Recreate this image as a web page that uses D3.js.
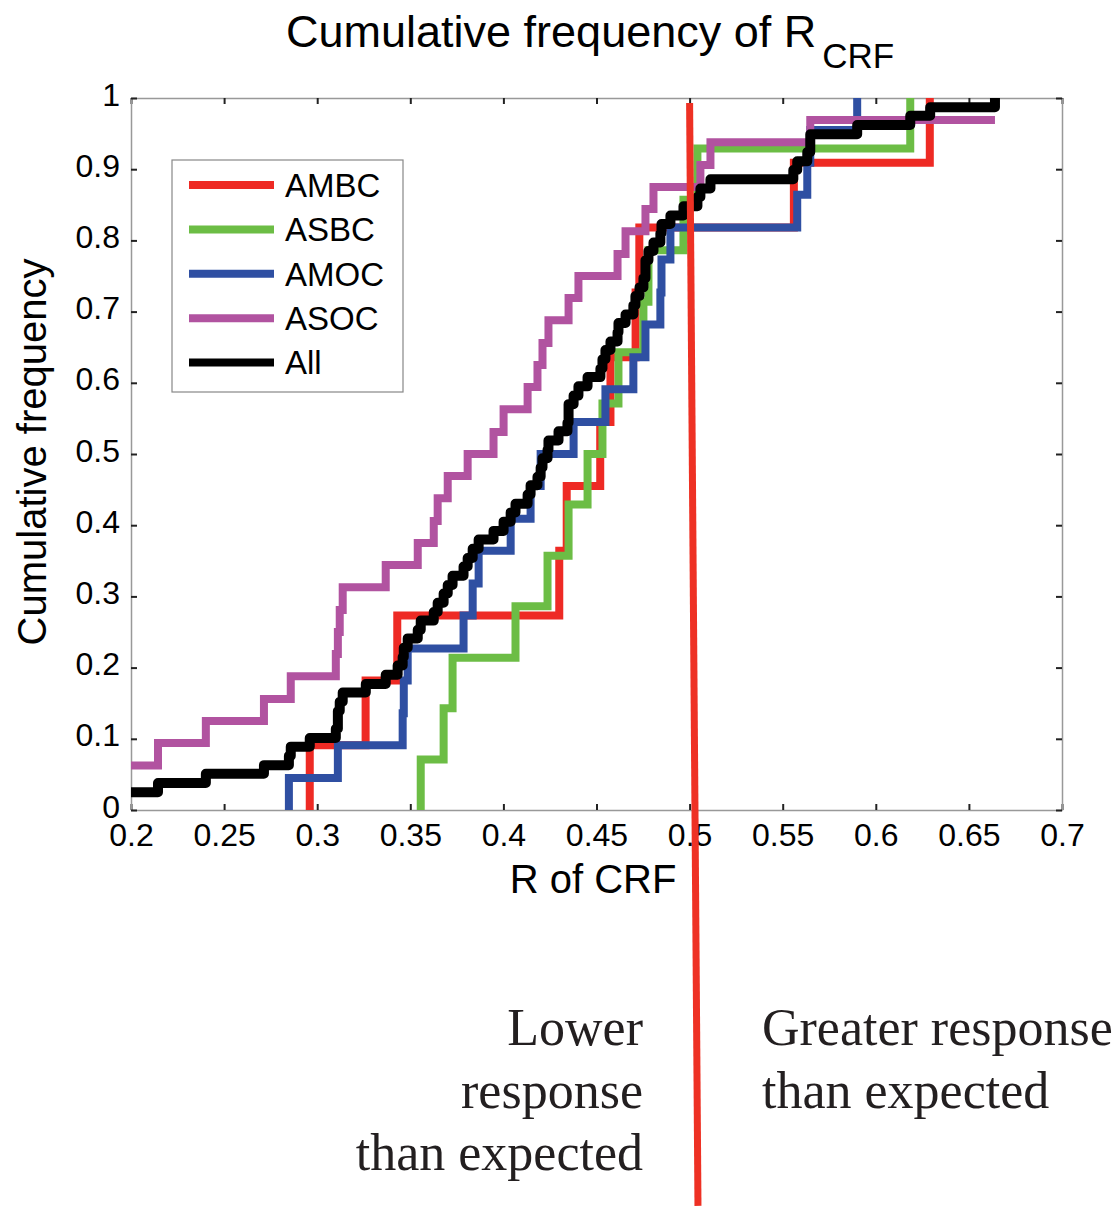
<!DOCTYPE html>
<html>
<head>
<meta charset="utf-8">
<script src="https://cdn.jsdelivr.net/npm/d3@7"></script>
<style>
  body { margin: 0; background: #fff; }
  svg { display: block; font-family: "Liberation Sans", Arial, sans-serif; }
</style>
</head>
<body>
<svg id="chart" width="1120" height="1206"></svg>
<script>
// series names / colours (legend order = draw order)
const seriesNames = ['AMBC', 'ASBC', 'AMOC', 'ASOC', 'All']
const seriesColors = ['#ee2a24', '#6cbd45', '#2f4fa2', '#b153a0', '#000000']

// each series: start point, then the x where the cdf steps and the level it steps to
const ambcStart = [0.296, 0]
const ambcX = [0.296, 0.326, 0.343, 0.430, 0.434, 0.452, 0.4575, 0.471, 0.473, 0.556, 0.629]
const ambcY = [0.091, 0.182, 0.273, 0.364, 0.455, 0.545, 0.636, 0.727, 0.818, 0.909, 1.0]

const asbcStart = [0.3556, 0]
const asbcX = [0.3556, 0.3679, 0.3727, 0.4065, 0.4237, 0.4350, 0.4452, 0.4532, 0.4618, 0.4752, 0.4779, 0.4967, 0.5042, 0.6185]
const asbcY = [0.071, 0.143, 0.214, 0.286, 0.357, 0.429, 0.5, 0.571, 0.643, 0.714, 0.786, 0.857, 0.929, 1.0]

const amocStart = [0.2848, 0]
const amocX = [0.2848, 0.3111, 0.3459, 0.3465, 0.3486, 0.3786, 0.3835, 0.3867, 0.4039, 0.4146, 0.4200,
  0.4377, 0.4548, 0.4698, 0.4763, 0.4843, 0.4849, 0.4897, 0.5578, 0.5632, 0.5648, 0.5900]
const amocY = [0.045, 0.091, 0.136, 0.182, 0.227, 0.273, 0.318, 0.364, 0.409, 0.455, 0.5,
  0.545, 0.591, 0.636, 0.682, 0.727, 0.773, 0.818, 0.864, 0.909, 0.955, 1.0]

const asocStart = [0.19, 0.0625]
const asocX = [0.2145, 0.2402, 0.2714, 0.2858, 0.3100, 0.3111, 0.3121, 0.3137, 0.3368, 0.3540, 0.3626,
  0.3647, 0.3701, 0.3808, 0.3947, 0.4001, 0.4130, 0.4183, 0.4210, 0.4242, 0.4350, 0.4403, 0.4613,
  0.4656, 0.4763, 0.4806, 0.5058, 0.5112, 0.5648, 0.6640]
const asocY = [0.094, 0.125, 0.156, 0.188, 0.219, 0.25, 0.281, 0.313, 0.344, 0.375, 0.406,
  0.438, 0.469, 0.5, 0.531, 0.563, 0.594, 0.625, 0.656, 0.688, 0.719, 0.75, 0.781,
  0.813, 0.844, 0.875, 0.906, 0.938, 0.969, 0.969]

const allStart = [0.19, 0.025]
const allX = [0.2145, 0.2402, 0.2714, 0.2848, 0.2858, 0.2960, 0.3100, 0.3111, 0.3111, 0.3121,
  0.3137, 0.3261, 0.3368, 0.3432, 0.3459, 0.3465, 0.3486, 0.3540, 0.3556, 0.3626,
  0.3647, 0.3679, 0.3701, 0.3727, 0.3786, 0.3808, 0.3835, 0.3867, 0.3947, 0.4001,
  0.4039, 0.4065, 0.4130, 0.4146, 0.4183, 0.4200, 0.4210, 0.4237, 0.4242, 0.4296,
  0.4344, 0.4350, 0.4350, 0.4377, 0.4403, 0.4452, 0.4521, 0.4532, 0.4548, 0.4575,
  0.4613, 0.4618, 0.4656, 0.4698, 0.4709, 0.4731, 0.4752, 0.4763, 0.4763, 0.4779,
  0.4806, 0.4843, 0.4849, 0.4897, 0.4967, 0.5042, 0.5058, 0.5112, 0.5557, 0.5578,
  0.5632, 0.5648, 0.5648, 0.5900, 0.6185, 0.6292, 0.6640]
const allY = [0.038, 0.051, 0.063, 0.076, 0.089, 0.101, 0.114, 0.127, 0.139, 0.152,
  0.165, 0.177, 0.190, 0.203, 0.215, 0.228, 0.241, 0.253, 0.266, 0.278,
  0.291, 0.304, 0.316, 0.329, 0.342, 0.354, 0.367, 0.380, 0.392, 0.405,
  0.418, 0.430, 0.443, 0.456, 0.468, 0.481, 0.494, 0.506, 0.519, 0.532,
  0.544, 0.557, 0.570, 0.582, 0.595, 0.608, 0.620, 0.633, 0.646, 0.658,
  0.671, 0.684, 0.696, 0.709, 0.722, 0.734, 0.747, 0.759, 0.772, 0.785,
  0.797, 0.810, 0.823, 0.835, 0.848, 0.861, 0.873, 0.886, 0.899, 0.911,
  0.924, 0.937, 0.949, 0.962, 0.975, 0.987, 1.0]

// ticks
const xTicks = [0.2, 0.25, 0.3, 0.35, 0.4, 0.45, 0.5, 0.55, 0.6, 0.65, 0.7]
const yTicks = [0, 0.1, 0.2, 0.3, 0.4, 0.5, 0.6, 0.7, 0.8, 0.9, 1]

// the hand-drawn red divider (data units, runs below the axes)
const splitX = [0.5, 0.5045]
const splitY = [0.993, -0.556]

const lowerText = ['Lower', 'response', 'than expected']
const greaterText = ['Greater response', 'than expected']

const svg = d3.select('#chart')
const mLeft = 131, mRight = 1062, mTop = 98, mBottom = 810

const x = d3.scaleLinear().domain([0.2, 0.7]).range([mLeft, mRight])
const y = d3.scaleLinear().domain([0, 1]).range([mBottom, mTop])

function toPoints (start, xs, ys) {
  return [start].concat(xs.map((v, i) => [v, ys[i]]))
}
const series = [
  toPoints(ambcStart, ambcX, ambcY),
  toPoints(asbcStart, asbcX, asbcY),
  toPoints(amocStart, amocX, amocY),
  toPoints(asocStart, asocX, asocY),
  toPoints(allStart, allX, allY)
]

// title
const title = svg.append('text')
  .attr('x', 286).attr('y', 47)
  .style('font-size', '45px')
  .text('Cumulative frequency of R')
title.append('tspan')
  .attr('dx', 6).attr('dy', 21)
  .style('font-size', '35px')
  .text('CRF')

// axes
const tickStyle = g => {
  g.select('.domain').attr('stroke', '#999').attr('stroke-width', 1.5)
  g.selectAll('.tick line').attr('stroke', '#222').attr('stroke-width', 2)
  g.selectAll('.tick text').style('font-size', '32px').attr('fill', '#000')
}
svg.append('g').attr('transform', `translate(0,${mBottom})`)
  .call(d3.axisBottom(x).tickValues(xTicks).tickSizeInner(-6).tickSizeOuter(0).tickPadding(13).tickFormat(d => String(d)))
  .call(tickStyle)
svg.append('g').attr('transform', `translate(0,${mTop})`)
  .call(d3.axisTop(x).tickValues(xTicks).tickSizeInner(-6).tickSizeOuter(0).tickFormat(''))
  .call(tickStyle)
svg.append('g').attr('transform', `translate(${mLeft},0)`)
  .call(d3.axisLeft(y).tickValues(yTicks).tickSizeInner(-6).tickSizeOuter(0).tickPadding(11).tickFormat(d => String(d)))
  .call(tickStyle)
  .call(g => g.selectAll('.tick text').attr('dy', '0.22em'))
svg.append('g').attr('transform', `translate(${mRight},0)`)
  .call(d3.axisRight(y).tickValues(yTicks).tickSizeInner(-6).tickSizeOuter(0).tickFormat(''))
  .call(tickStyle)

// axis labels
svg.append('text')
  .attr('x', 593).attr('y', 893)
  .attr('text-anchor', 'middle')
  .style('font-size', '40px')
  .text('R of CRF')
svg.append('text')
  .attr('transform', 'translate(46,452) rotate(-90)')
  .attr('text-anchor', 'middle')
  .style('font-size', '40px')
  .text('Cumulative frequency')

// clip lines to the axes box
svg.append('clipPath').attr('id', 'plot-clip')
  .append('rect')
  .attr('x', mLeft).attr('y', mTop)
  .attr('width', mRight - mLeft).attr('height', mBottom - mTop)

const line = d3.line()
  .x(d => x(d[0]))
  .y(d => y(d[1]))
  .curve(d3.curveStepAfter)

svg.append('g')
  .attr('clip-path', 'url(#plot-clip)')
  .selectAll('path')
  .data(series)
  .join('path')
  .attr('d', line)
  .attr('fill', 'none')
  .attr('stroke', (d, i) => seriesColors[i])
  .attr('stroke-width', (d, i) => i === 4 ? 10 : 8)
  .attr('stroke-linejoin', (d, i) => i === 4 ? 'round' : 'miter')

// legend
const legend = svg.append('g')
legend.append('rect')
  .attr('x', 172).attr('y', 160).attr('width', 231).attr('height', 232)
  .attr('fill', '#fff').attr('stroke', '#888').attr('stroke-width', 1.2)
const items = legend.selectAll('g.item')
  .data(seriesNames)
  .join('g')
  .attr('class', 'item')
  .attr('transform', (d, i) => `translate(0,${185 + i * 44.4})`)
items.append('line')
  .attr('x1', 189).attr('x2', 274)
  .attr('stroke', (d, i) => seriesColors[i])
  .attr('stroke-width', 8)
items.append('text')
  .attr('x', 285).attr('dy', '0.36em')
  .style('font-size', '33px')
  .text(d => d)

// red divider
svg.append('line')
  .attr('x1', x(splitX[0])).attr('y1', y(splitY[0]))
  .attr('x2', x(splitX[1])).attr('y2', y(splitY[1]))
  .attr('stroke', '#ee3124')
  .attr('stroke-width', 7)

// bottom annotation text
svg.append('g')
  .selectAll('text')
  .data(lowerText)
  .join('text')
  .attr('x', 643).attr('y', (d, i) => 1045 + i * 62.5)
  .attr('text-anchor', 'end')
  .style('font-family', '"Liberation Serif", "Times New Roman", serif')
  .style('font-size', '52px')
  .attr('fill', '#231f20')
  .text(d => d)
svg.append('g')
  .selectAll('text')
  .data(greaterText)
  .join('text')
  .attr('x', 762).attr('y', (d, i) => 1045 + i * 62.5)
  .style('font-family', '"Liberation Serif", "Times New Roman", serif')
  .style('font-size', '52px')
  .attr('fill', '#231f20')
  .text(d => d)
</script>
</body>
</html>
